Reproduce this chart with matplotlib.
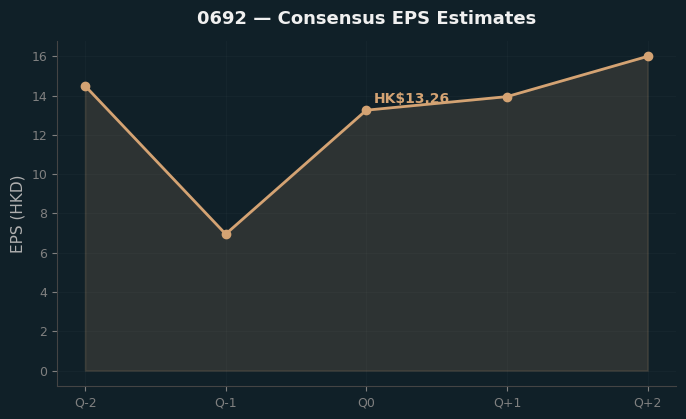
import matplotlib
matplotlib.use("Agg")
import matplotlib.pyplot as plt

quarters = ["Q-2", "Q-1", "Q0", "Q+1", "Q+2"]
eps = [14.5, 6.95, 13.26, 13.95, 16.0]
current_label = "HK$13.26"

bg = "#102028"
line_c = "#d4a373"

fig, ax = plt.subplots(figsize=(6.86, 4.19), dpi=100)
fig.patch.set_facecolor(bg)
ax.set_facecolor(bg)

x = list(range(len(quarters)))
ax.fill_between(x, eps, 0, color=line_c, alpha=0.15, linewidth=1.2, edgecolor=(0.83, 0.64, 0.45, 0.15))
ax.plot(x, eps, color=line_c, linewidth=2, marker="o", markersize=6)
ax.annotate(current_label, (2, eps[2]), xytext=(5, 5), textcoords="offset points",
            color=line_c, fontsize=10, fontweight="bold")

ax.set_xticks(x)
ax.set_xticklabels(quarters)
ax.set_title("0692 — Consensus EPS Estimates", color="#f0f0f0", fontsize=13, fontweight="bold", pad=12)
ax.set_ylabel("EPS (HKD)", color="#b0b0b0", fontsize=11)
ax.tick_params(colors="#808080", labelsize=9)
for s in ["top", "right"]:
    ax.spines[s].set_visible(False)
for s in ["left", "bottom"]:
    ax.spines[s].set_color("#444444")
ax.grid(True, color="#ffffff", alpha=0.025)
ax.set_axisbelow(True)

fig.subplots_adjust(left=0.083, right=0.985, top=0.903, bottom=0.078)
fig.savefig("out.png", facecolor=bg)
